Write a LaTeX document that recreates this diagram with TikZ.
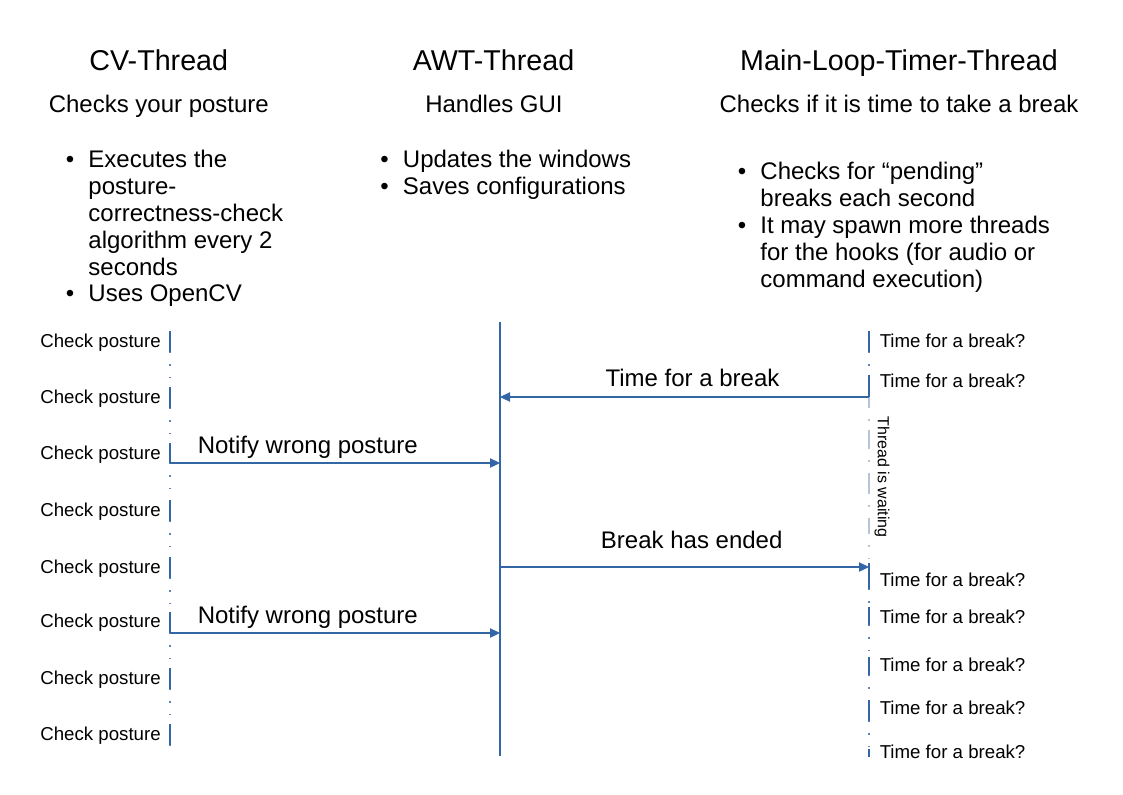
\documentclass[tikz,border=0pt]{standalone}
\usepackage{fontspec}
\setmainfont{Liberation Sans}
\usetikzlibrary{arrows.meta}
\definecolor{lineblue}{HTML}{3465A4}
\definecolor{waitgray}{HTML}{B7C4D6}

\begin{document}
\begin{tikzpicture}
            [x=0.75pt, y=-0.75pt, every node/.style={inner sep=0, text=black},
             heading/.style={font=\fontsize{21.5}{25}\selectfont, anchor=base},
             subheading/.style={font=\fontsize{18}{21}\selectfont, anchor=base},
             bulletlist/.style={font=\fontsize{18}{20.1}\selectfont, anchor=base west},
             msglabel/.style={font=\fontsize{18}{21}\selectfont, anchor=base},
             checklabel/.style={font=\fontsize{14}{16}\selectfont, anchor=base east},
             timelabel/.style={font=\fontsize{14}{16}\selectfont, anchor=base west},
             waitlabel/.style={font=\fontsize{12}{14}\selectfont, rotate=-90},
             lifeline/.style={draw=lineblue, line width=1.4pt},
             dots/.style={draw=lineblue!80, line width=1pt, dash pattern=on 1pt off 8.35pt},
             waiting/.style={draw=waitgray, line width=1.2pt},
             msg/.style={draw=lineblue, line width=0.8pt, -{Triangle[length=7.5pt,width=7pt]}}]

            \fill[white] (0,0) rectangle (1123,794);
            \useasboundingbox (0,0) rectangle (1123,794);

            % headings
            \node[heading] (cvhead) at (158.8,70.3) {CV-Thread};
            \node[heading] (awthead) at (493.5,70.3) {AWT-Thread};
            \node[heading] (mlthead) at (899,70.5) {Main-Loop-Timer-Thread};
            \node[subheading] (cvsub) at (158.8,112.2) {Checks your posture};
            \node[subheading] (awtsub) at (494,112.5) {Handles GUI};
            \node[subheading] (mltsub) at (899,112.2) {Checks if it is time to take a break};

            % descriptions
            \node[bulletlist] (cvlist) at (65.5,167.8) {\begin{tabular}[t]{@{}l@{}l@{}}
                \makebox[17pt][l]{\textbullet} & Executes the\\
                & posture-\\
                & correctness-check\\
                & algorithm every 2\\
                & seconds\\
                \makebox[17pt][l]{\textbullet} & Uses OpenCV
              \end{tabular}};
            \node[bulletlist] (awtlist) at (380,167.8) {\begin{tabular}[t]{@{}l@{}l@{}}
                \makebox[17pt][l]{\textbullet} & Updates the windows\\
                \makebox[17pt][l]{\textbullet} & Saves configurations
              \end{tabular}};
            \node[bulletlist] (mltlist) at (737.5,179.8) {\begin{tabular}[t]{@{}l@{}l@{}}
                \makebox[17pt][l]{\textbullet} & Checks for “pending”\\
                & breaks each second\\
                \makebox[17pt][l]{\textbullet} & It may spawn more threads\\
                & for the hooks (for audio or\\
                & command execution)
              \end{tabular}};

            % lifelines
            \coordinate (awttop) at (500,322);
            \coordinate (awtbot) at (500,756);
            \draw[lifeline] (awttop) -- (awtbot);

            \draw[dots] (170,352) -- (170,387) (170,408) -- (170,443) (170,463) -- (170,500)
                        (170,521) -- (170,557) (170,578) -- (170,612) (170,633) -- (170,668)
                        (170,689) -- (170,724) (170,745) -- (170,757);
            \draw[lifeline] (170,331) -- (170,352) (170,387) -- (170,408) (170,443) -- (170,463)
                            (170,500) -- (170,521) (170,557) -- (170,578) (170,612) -- (170,633)
                            (170,668) -- (170,689) (170,724) -- (170,745);

            \draw[dots] (869,352) -- (869,375) (869,589) -- (869,607) (869,625) -- (869,657)
                        (869,675) -- (869,700) (869,721) -- (869,749);
            \draw[lifeline] (869,331) -- (869,352) (869,375) -- (869,397) (869,563) -- (869,589)
                            (869,607) -- (869,625) (869,657) -- (869,675) (869,700) -- (869,721)
                            (869,749) -- (869,757);
            % \draw[lifeline] (869,397) -- (869,563);
            \draw[waiting] (869,397) -- (869,407) (869,430) -- (869,448) (869,474) -- (869,493)
                           (869,518) -- (869,533);
            \draw[dots, draw=waitgray] (869,407) -- (869,430) (869,448) -- (869,474)
                                       (869,493) -- (869,518) (869,533) -- (869,563);
            \node[waitlabel] (wait) at (882,477) {Thread is waiting};

            % checks
            \node[checklabel] (cp1) at (161,347.8) {Check posture};
            \node[checklabel] (cp2) at (161,403.8) {Check posture};
            \node[checklabel] (cp3) at (161,459.8) {Check posture};
            \node[checklabel] (cp4) at (161,516.8) {Check posture};
            \node[checklabel] (cp5) at (161,573.8) {Check posture};
            \node[checklabel] (cp6) at (161,627.8) {Check posture};
            \node[checklabel] (cp7) at (161,684.8) {Check posture};
            \node[checklabel] (cp8) at (161,740.8) {Check posture};

            \node[timelabel] (tb1) at (879.5,347.8) {Time for a break?};
            \node[timelabel] (tb2) at (879.5,387.8) {Time for a break?};
            \node[timelabel] (tb3) at (879.5,586.8) {Time for a break?};
            \node[timelabel] (tb4) at (879.5,623.8) {Time for a break?};
            \node[timelabel] (tb5) at (879.5,671.8) {Time for a break?};
            \node[timelabel] (tb6) at (879.5,714.8) {Time for a break?};
            \node[timelabel] (tb7) at (879.5,758.8) {Time for a break?};

            % messages
            \coordinate (breakfrom) at (869,397);
            \coordinate (breakto) at (500,397);
            \coordinate (wrong1from) at (170,463);
            \coordinate (wrong1to) at (500,463);
            \coordinate (endfrom) at (500,567);
            \coordinate (endto) at (869,567);
            \coordinate (wrong2from) at (170,633);
            \coordinate (wrong2to) at (500,633);

            \draw[msg] (breakfrom) -- (breakto);
            \draw[msg] (wrong1from) -- (wrong1to);
            \draw[msg] (endfrom) -- (endto);
            \draw[msg] (wrong2from) -- (wrong2to);

            \node[msglabel] (breaklabel) at (692.5,386.5) {Time for a break};
            \node[msglabel] (wrong1label) at (307.8,453.2) {Notify wrong posture};
            \node[msglabel] (endlabel) at (691.7,548.2) {Break has ended};
            \node[msglabel] (wrong2label) at (307.8,623.2) {Notify wrong posture};
          \end{tikzpicture}
\end{document}
